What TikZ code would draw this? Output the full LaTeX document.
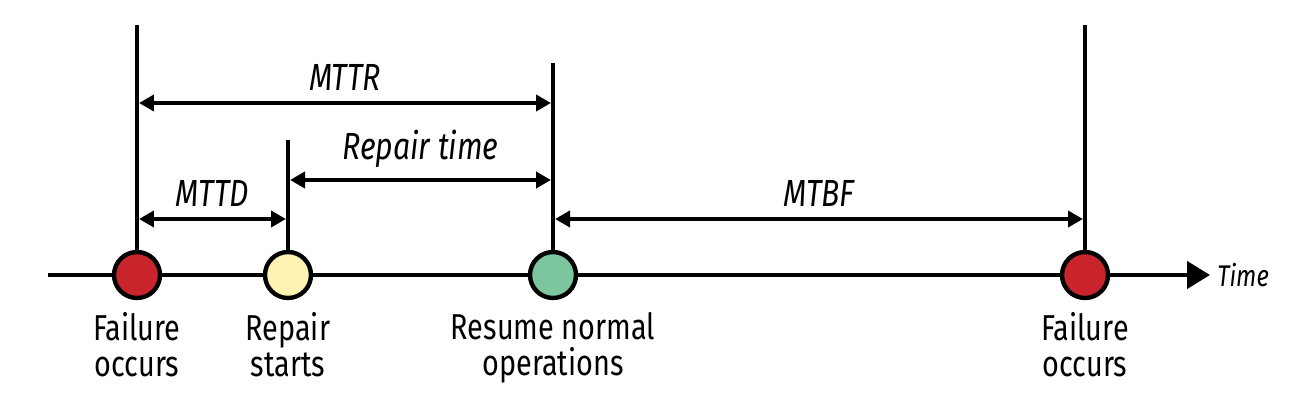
\documentclass[tikz,border=0pt]{standalone}
\usepackage{fontspec}
\setmainfont{Fira Sans}[FakeStretch=0.8]
\usepackage{xcolor}
\usetikzlibrary{arrows.meta,positioning}

\definecolor{failred}{RGB}{201,36,44}
\definecolor{repairyellow}{RGB}{255,242,178}
\definecolor{resumegreen}{RGB}{125,197,158}

\tikzset{
    event/.style={draw, circle, line width=2.5pt, minimum size=0.92cm, inner sep=0pt},
    tick/.style={line width=2.5pt},
    span/.style={<->, line width=2.5pt, >={Triangle[length=0.3cm,width=0.32cm]}},
    lbl/.style={align=center, font=\fontsize{20.5}{20.5}\selectfont, inner sep=0pt},
    spanlbl/.style={font=\fontsize{21.5}{22}\selectfont\itshape, inner sep=0pt}
}

\begin{document}
\begin{tikzpicture}[x=0.02cm, y=-0.02cm]
        \useasboundingbox (0,0) rectangle (1314,408);

        % timeline
        \coordinate (T0) at (48,275);
        \coordinate (T1) at (1210,275);
        \draw[line width=2.5pt, -{Triangle[length=0.46cm,width=0.54cm]}] (T0) -- (T1);
        \node[anchor=west, font=\fontsize{17}{18}\selectfont\itshape, inner sep=0pt] (time) at (1217,275) {Time};

        % tick tops
        \coordinate (F1top) at (137,25);
        \coordinate (RStop) at (288,140);
        \coordinate (RNtop) at (553,63);
        \coordinate (F2top) at (1085,25);

        \draw[tick] (F1top) -- (137,275);
        \draw[tick] (RStop) -- (288,275);
        \draw[tick] (RNtop) -- (553,275);
        \draw[tick] (F2top) -- (1085,275);

        % events
        \node[event, fill=failred] (F1) at (137,275) {};
        \node[event, fill=repairyellow] (RS) at (288,275) {};
        \node[event, fill=resumegreen] (RN) at (553,275) {};
        \node[event, fill=failred] (F2) at (1085,275) {};

        \node[lbl, below=0.24cm of F1] (F1lbl) {Failure\\occurs};
        \node[lbl, below=0.24cm of RS] (RSlbl) {Repair\\starts};
        \node[lbl, below=0.24cm of RN] (RNlbl) {Resume normal\\operations};
        \node[lbl, below=0.24cm of F2] (F2lbl) {Failure\\occurs};

        % spans
        \coordinate (mttrA) at (139,103);
        \coordinate (mttrB) at (551,103);
        \coordinate (repA) at (290,180);
        \coordinate (repB) at (551,180);
        \coordinate (mttdA) at (139,219);
        \coordinate (mttdB) at (286,219);
        \coordinate (mtbfA) at (555,219);
        \coordinate (mtbfB) at (1083,219);

        \draw[span] (mttrA) -- node[spanlbl, above=0.2cm] (mttr) {MTTR} (mttrB);
        \draw[span] (repA) -- node[spanlbl, above=0.2cm] (rep) {Repair time} (repB);
        \draw[span] (mttdA) -- node[spanlbl, above=0.2cm] (mttd) {MTTD} (mttdB);
        \draw[span] (mtbfA) -- node[spanlbl, above=0.2cm] (mtbf) {MTBF} (mtbfB);
    \end{tikzpicture}
\end{document}
